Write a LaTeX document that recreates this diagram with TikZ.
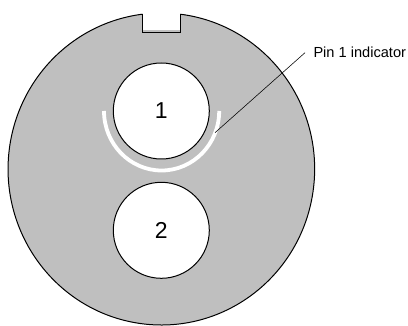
\documentclass[tikz,border=0pt]{standalone}
\usepackage{fontspec}
\setmainfont{Liberation Sans}
\begin{document}
\begin{tikzpicture}[x=1pt,y=-1pt,
  outline/.style={draw=black,line width=1pt},
  pin/.style={outline,circle,fill=white,minimum size=96pt,inner sep=0pt,font=\fontsize{23}{26}\selectfont},
  lead/.style={draw=black,line width=0.55pt}]
\useasboundingbox (0,0) rectangle (408,326);
\coordinate (c) at (161.3,169);
\coordinate (nl) at (142.3,14.2);
\coordinate (nr) at (180.3,14.2);
\coordinate (nbl) at (142.3,33);
\coordinate (nbr) at (180.3,33);
\fill[black!25] (c) ellipse (153.3 and 156);
\fill[white] (142.3,8) rectangle (180.3,29.7);
\draw[line width=1pt] (nr) arc (-82.9:262.9:153.3 and 156);
\draw[outline,line join=miter] (nl) -- (nbl) -- (nbr) -- (nr);
\node[pin] (p1) at (161.3,111) {1};
\node[pin] (p2) at (161.3,230.3) {2};
\draw[white,line width=3.8pt] (104,111) arc (180:0:57.6 and 59.5);
\coordinate (la) at (215,132.7);
\coordinate (lb) at (305,52.7);
\draw[lead] (la) -- (lb);
\node[anchor=west,inner sep=0pt,font=\fontsize{14.6}{17}\selectfont] (lbl) at (313.3,52.5) {Pin 1 indicator};
\end{tikzpicture}
\end{document}
